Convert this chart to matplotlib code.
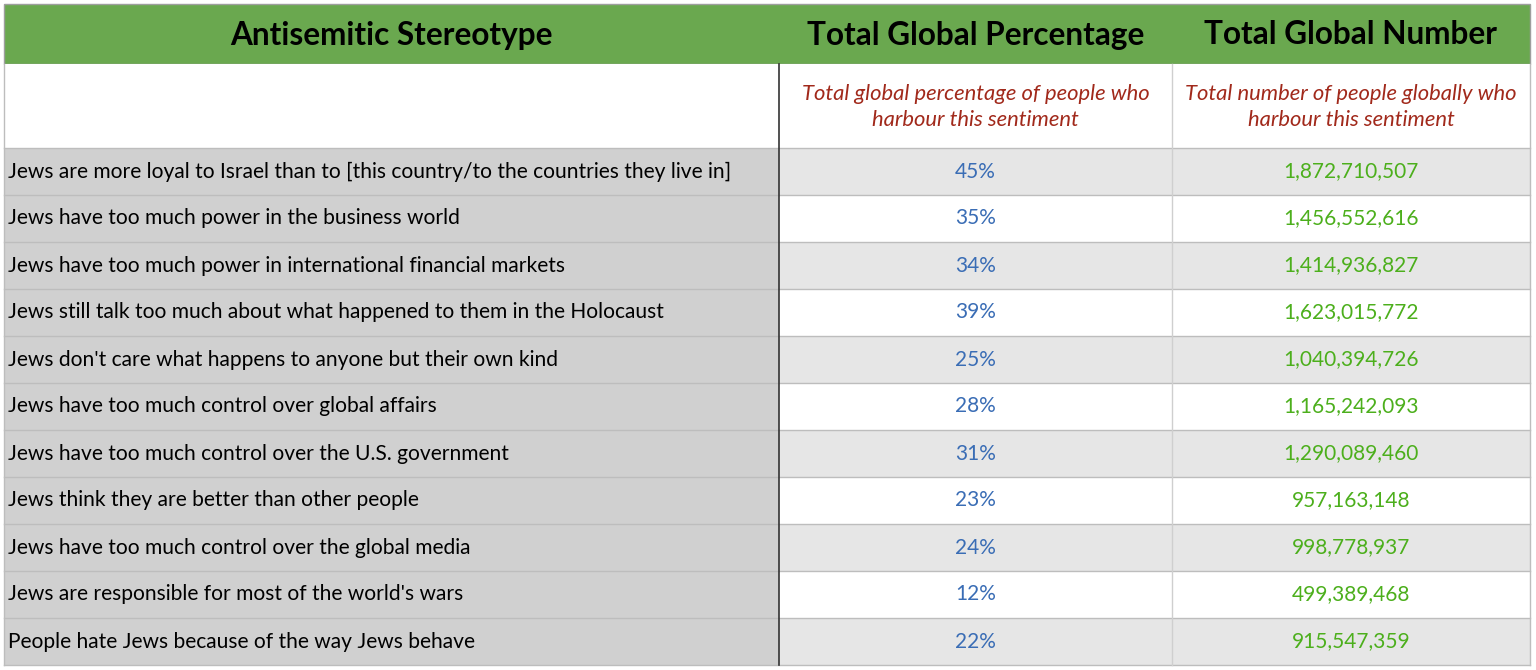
import numpy as np
import matplotlib.pyplot as plt
from matplotlib.patches import Rectangle

# table content
headers = ["Antisemitic Stereotype", "Total Global Percentage", "Total Global Number"]
subheaders = ["", "Total global percentage of people who\nharbour this sentiment",
              "Total number of people globally who\nharbour this sentiment"]
stereotypes = [
    "Jews are more loyal to Israel than to [this country/to the countries they live in]",
    "Jews have too much power in the business world",
    "Jews have too much power in international financial markets",
    "Jews still talk too much about what happened to them in the Holocaust",
    "Jews don't care what happens to anyone but their own kind",
    "Jews have too much control over global affairs",
    "Jews have too much control over the U.S. government",
    "Jews think they are better than other people",
    "Jews have too much control over the global media",
    "Jews are responsible for most of the world's wars",
    "People hate Jews because of the way Jews behave",
]
percentages = [45, 35, 34, 39, 25, 28, 31, 23, 24, 12, 22]
numbers = [1872710507, 1456552616, 1414936827, 1623015772, 1040394726, 1165242093,
           1290089460, 957163148, 998778937, 499389468, 915547359]

# layout (pixels)
W, H = 1536, 670
col_x = [4, 779, 1172, 1530]
head_top, head_bot = 4, 64
sub_bot = 148
row_h = 47.0

plt.rcParams['font.family'] = ['Lato', 'DejaVu Sans']

fig = plt.figure(figsize=(W / 100, H / 100), dpi=100)
ax = fig.add_axes([0, 0, 1, 1])
ax.set_xlim(0, W)
ax.set_ylim(H, 0)
ax.axis('off')

# green header
ax.add_patch(Rectangle((col_x[0], head_top), col_x[-1] - col_x[0], head_bot - head_top,
                       facecolor='#6aa84f', edgecolor='#9e9e9e', lw=1))
for i, h in enumerate(headers):
    ax.text((col_x[i] + col_x[i + 1]) / 2, (head_top + head_bot) / 2 + 1, h,
            ha='center', va='center', fontsize=22.7, fontweight='bold', color='black')

# subheader row
ax.add_patch(Rectangle((col_x[0], head_bot), col_x[-1] - col_x[0], sub_bot - head_bot,
                       facecolor='white', edgecolor='none'))
for i in (1, 2):
    ax.text((col_x[i] + col_x[i + 1]) / 2, (head_bot + sub_bot) / 2 + 1, subheaders[i],
            ha='center', va='center', fontsize=15.8, style='italic', color='#a1291b',
            linespacing=1.32)

# data rows
for r, (s, p, n) in enumerate(zip(stereotypes, percentages, numbers)):
    y0 = sub_bot + r * row_h
    yc = y0 + row_h / 2
    ax.add_patch(Rectangle((col_x[0], y0), col_x[1] - col_x[0], row_h,
                           facecolor='#d0d0d0', edgecolor='none'))
    fill = '#e6e6e6' if r % 2 == 0 else 'white'
    ax.add_patch(Rectangle((col_x[1], y0), col_x[-1] - col_x[1], row_h,
                           facecolor=fill, edgecolor='none'))
    ax.text(col_x[0] + 4, yc, s, ha='left', va='center', fontsize=15.1, color='black')
    ax.text((col_x[1] + col_x[2]) / 2, yc, f"{p}%", ha='center', va='center',
            fontsize=15, color='#3a6db5')
    ax.text((col_x[2] + col_x[3]) / 2, yc, f"{n:,}", ha='center', va='center',
            fontsize=15, color='#4caf1c')

# grid lines
bottom = sub_bot + len(stereotypes) * row_h
for r in range(len(stereotypes) + 1):
    y = sub_bot + r * row_h
    ax.plot([col_x[0], col_x[-1]], [y, y], color='#bdbdbd', lw=1)
ax.plot([col_x[2], col_x[2]], [head_bot, bottom], color='#cfcfcf', lw=1)
ax.plot([col_x[-1], col_x[-1]], [head_bot, bottom], color='#bdbdbd', lw=1)
ax.plot([col_x[0], col_x[0]], [head_bot, bottom], color='#bdbdbd', lw=1)
ax.plot([col_x[1], col_x[1]], [head_bot, bottom], color='#333333', lw=1.2)

fig.savefig('out.png', dpi=100)
